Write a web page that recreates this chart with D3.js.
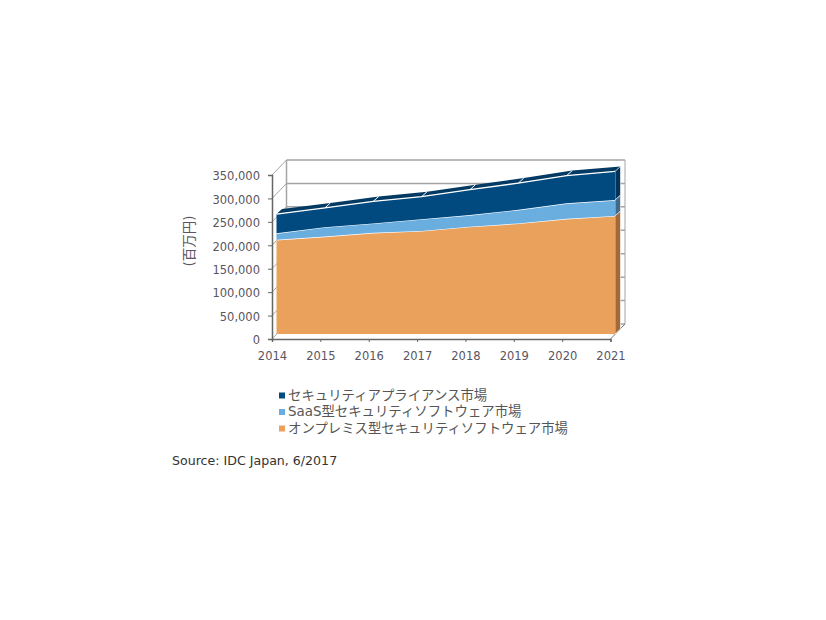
<!DOCTYPE html>
<html>
<head>
<meta charset="utf-8">
<script src="https://cdn.jsdelivr.net/npm/d3@7"></script>
<style>
  html, body { margin: 0; padding: 0; background: #fff; }
  text { font-family: "DejaVu Sans", "Noto Sans CJK JP", sans-serif; }
</style>
</head>
<body>
<div id="chart"></div>
<script>
var years = [2014, 2015, 2016, 2017, 2018, 2019, 2020, 2021];
var yTicks = [0, 50000, 100000, 150000, 200000, 250000, 300000, 350000];

// values in million yen
var onPremise = [201000, 208000, 216000, 220000, 229000, 236000, 246000, 252000];
var saas      = [14000, 20000, 20000, 25000, 25000, 29000, 33000, 34000];
var appliance = [41000, 41000, 47000, 48000, 54000, 57000, 59000, 61000];

var seriesKeys = ["onPremise", "saas", "appliance"];
var seriesFace = ["#e9a15c", "#6aaddf", "#004a80"];
var seriesSide = ["#a2693a", "#3f6a8a", "#023356"];
var topColor = "#033a63";

// legend reads top to bottom, reverse of the stack
var legendLabels = ["セキュリティアプライアンス市場", "SaaS型セキュリティソフトウェア市場", "オンプレミス型セキュリティソフトウェア市場"];
var legendColors = ["#004a80", "#6aaddf", "#e9a15c"];

var width = 826, height = 620;

var svg = d3.select("#chart").append("svg")
  .attr("width", width)
  .attr("height", height)
  .style("display", "block");

var x = d3.scalePoint().domain(years).range([272, 610.5]);
var y = d3.scaleLinear().domain([0, 350000]).range([339, 175]);

// depth of the fake 3d box
var wallDx = 14.5, wallDy = -15;
var faceDx = 4.5, faceDy = -5;
var sideDx = 5.5, sideDy = -5;

var rows = years.map(function(d, i) {
  return { year: d, onPremise: onPremise[i], saas: saas[i], appliance: appliance[i] };
});
var stacked = d3.stack().keys(seriesKeys)(rows);

// walls
var wall = svg.append("g")
  .attr("fill", "none")
  .attr("stroke", "#a4a4a4");

// back grid, only the top two show above the areas
wall.selectAll("line.grid")
  .data(yTicks)
  .enter().append("line")
    .attr("class", "grid")
    .attr("x1", x(2014) + wallDx)
    .attr("x2", x(2021) + wallDx)
    .attr("y1", function(d) { return y(d) + wallDy; })
    .attr("y2", function(d) { return y(d) + wallDy; })
    .attr("stroke-width", 1.5);

// left wall diagonals
wall.selectAll("line.diag")
  .data(yTicks)
  .enter().append("line")
    .attr("class", "diag")
    .attr("x1", x(2014))
    .attr("x2", x(2014) + wallDx)
    .attr("y1", function(d) { return y(d); })
    .attr("y2", function(d) { return y(d) + wallDy; });

wall.append("line")
  .attr("x1", x(2014) + wallDx)
  .attr("x2", x(2014) + wallDx)
  .attr("y1", y(350000) + wallDy)
  .attr("y2", y(0) + wallDy)
  .attr("stroke-width", 1.5);

wall.append("line")
  .attr("x1", x(2021) + wallDx)
  .attr("x2", x(2021) + wallDx)
  .attr("y1", y(350000) + wallDy)
  .attr("y2", y(0) + wallDy);

wall.append("line")
  .attr("x1", x(2021))
  .attr("x2", x(2021) + wallDx)
  .attr("y1", y(0))
  .attr("y2", y(0) + wallDy)
  .attr("stroke", "#777");

// areas, each one with its right side face
var frontX = function(year) { return x(year) + faceDx; };
var frontY = function(v) { return y(v) + faceDy; };

var area = d3.area()
  .x(function(d) { return frontX(d.data.year); })
  .y0(function(d) { return frontY(d[0]); })
  .y1(function(d) { return frontY(d[1]); });

var layer = svg.selectAll("g.layer")
  .data(stacked)
  .enter().append("g")
    .attr("class", "layer");

// top surface of the upper series
var topSeries = stacked[stacked.length - 1];

svg.insert("path", "g.layer")
  .attr("fill", topColor)
  .attr("d", d3.area()
    .x0(function(d) { return frontX(d.data.year); })
    .x1(function(d) { return frontX(d.data.year) + sideDx; })
    .y0(function(d) { return frontY(d[1]); })
    .y1(function(d) { return frontY(d[1]) + sideDy; })(topSeries));

// white dividers on the top surface, at the inner years
svg.selectAll("line.divider")
  .data(topSeries.slice(1, -1))
  .enter().append("line")
    .attr("class", "divider")
    .attr("x1", function(d) { return frontX(d.data.year); })
    .attr("x2", function(d) { return frontX(d.data.year) + sideDx; })
    .attr("y1", function(d) { return frontY(d[1]); })
    .attr("y2", function(d) { return frontY(d[1]) + sideDy; })
    .attr("stroke", "#fff")
    .attr("stroke-width", 1);

// right side
layer.append("path")
  .attr("fill", function(s, i) { return seriesSide[i]; })
  .attr("stroke", "#fff")
  .attr("stroke-width", 0.6)
  .attr("d", function(s) {
    var e = s[s.length - 1];
    var px = frontX(2021);
    return "M" + px + "," + frontY(e[0]) +
      "L" + (px + sideDx) + "," + (frontY(e[0]) + sideDy) +
      "L" + (px + sideDx) + "," + (frontY(e[1]) + sideDy) +
      "L" + px + "," + frontY(e[1]) + "Z";
  });

// front face
layer.append("path")
  .attr("fill", function(s, i) { return seriesFace[i]; })
  .attr("d", area);

// white seam along the top of every layer
var seam = d3.line()
  .x(function(d) { return frontX(d.data.year); })
  .y(function(d) { return frontY(d[1]); });

layer.append("path")
  .attr("fill", "none")
  .attr("stroke", "#fff")
  .attr("stroke-width", 1.3)
  .attr("d", seam);

// axes
var axisColor = "#666";
var labelColor = "#5a5560";

var yAxis = d3.axisLeft(y)
  .tickValues(yTicks)
  .tickSize(4)
  .tickPadding(8)
  .tickFormat(d3.format(","));

var xAxis = d3.axisBottom(x)
  .tickSize(3)
  .tickPadding(10)
  .tickFormat(d3.format("d"));

var gy = svg.append("g")
  .attr("transform", "translate(" + x(2014) + ",0)")
  .call(yAxis);

var gx = svg.append("g")
  .attr("transform", "translate(0," + y(0) + ")")
  .call(xAxis);

[gy, gx].forEach(function(g) {
  g.select(".domain").attr("stroke", axisColor).attr("stroke-width", 1.5);
  g.selectAll(".tick line").attr("stroke", axisColor);
  g.selectAll("text")
    .attr("fill", labelColor)
    .style("font-family", '"DejaVu Sans", sans-serif')
    .style("font-size", "11.5px");
});
gy.selectAll("text").attr("dy", "0.42em");

// y title
svg.append("text")
  .attr("transform", "translate(194,241) rotate(-90)")
  .attr("text-anchor", "middle")
  .attr("fill", labelColor)
  .style("font-size", "13.5px")
  .text("(百万円)");

// legend
var legendY = d3.scalePoint().domain(legendLabels).range([395, 428]);

var legend = svg.selectAll("g.legend")
  .data(legendLabels)
  .enter().append("g")
    .attr("class", "legend")
    .attr("transform", function(d) { return "translate(279," + legendY(d) + ")"; });

legend.append("rect")
  .attr("x", 0)
  .attr("y", -2.5)
  .attr("width", 6)
  .attr("height", 6)
  .attr("fill", function(d, i) { return legendColors[i]; });

legend.append("text")
  .attr("x", 9)
  .attr("y", 4.5)
  .attr("fill", "#555")
  .style("font-size", "13.4px")
  .text(function(d) { return d; });

// source note
svg.append("text")
  .attr("x", 172)
  .attr("y", 465)
  .attr("fill", "#333")
  .style("font-size", "12.6px")
  .text("Source: IDC Japan, 6/2017");
</script>
</body>
</html>
